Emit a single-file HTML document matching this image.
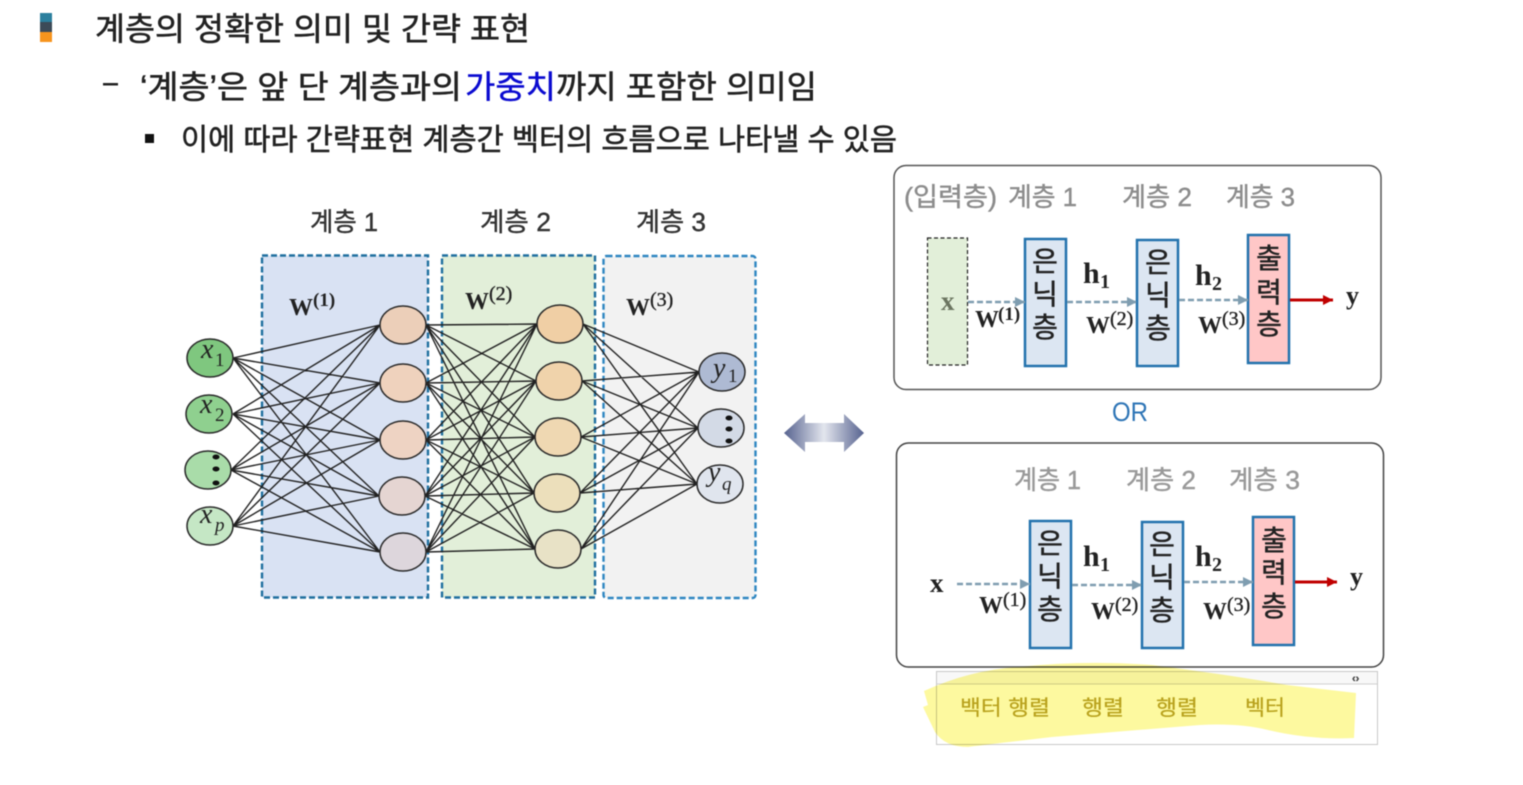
<!DOCTYPE html>
<html><head><meta charset="utf-8"><style>
html,body{margin:0;padding:0;background:#fff;width:1523px;height:785px;overflow:hidden}
svg{display:block;filter:blur(0.5px)}
.k{font-family:"Liberation Sans","Noto Sans CJK KR",sans-serif}
.t{stroke:#222;stroke-width:.55;fill:#222}
.s{font-family:"Liberation Serif","DejaVu Serif",serif;font-weight:bold;fill:#222}
.n{font-weight:normal;stroke:#222;stroke-width:.35}
.i{font-family:"Liberation Serif","DejaVu Serif",serif;font-style:italic;fill:#222}
.r{font-style:normal}
.m{font-size:28px;text-anchor:middle;fill:#222;stroke:#222;stroke-width:.5}
.h{font-size:26px;fill:#333;stroke:#333;stroke-width:.4}
.g{font-size:26px;fill:#8c8c8c;stroke:#8c8c8c;stroke-width:.4}
.y{font-size:21px;fill:#b8a11c;stroke:#b8a11c;stroke-width:.2}
</style></head><body>
<svg width="1523" height="785" viewBox="0 0 1523 785" xmlns="http://www.w3.org/2000/svg">
<defs>
<linearGradient id="ag" x1="0" x2="1" y1="0" y2="0"><stop offset="0" stop-color="#56628f"/><stop offset=".5" stop-color="#e3e6ee"/><stop offset="1" stop-color="#56628f"/></linearGradient>
<marker id="ga" markerUnits="userSpaceOnUse" markerWidth="11" markerHeight="11" refX="10" refY="5" orient="auto"><path d="M0 0L10 5L0 10Z" fill="#7f9db0"/></marker>
<marker id="ra" markerUnits="userSpaceOnUse" markerWidth="11" markerHeight="11" refX="10" refY="5" orient="auto"><path d="M0 0L10 5L0 10Z" fill="#c00000"/></marker>
</defs>

<!-- header -->
<rect x="40" y="13" width="12" height="10" fill="#2b7f9e"/>
<rect x="40" y="22" width="12" height="10" fill="#3c4a58"/>
<rect x="40" y="32" width="12" height="10" fill="#f7941d"/>
<text class="k t" x="95" y="40" font-size="32" textLength="435" lengthAdjust="spacingAndGlyphs">계층의 정확한 의미 및 간략 표현</text>
<rect x="103" y="83" width="15" height="2.500" fill="#222"/>
<text class="k t" x="140" y="98" font-size="32" textLength="322" lengthAdjust="spacingAndGlyphs">‘계층’은 앞 단 계층과의</text>
<text class="k" x="465" y="98" font-size="32" fill="#0a0ad0" stroke="#0a0ad0" stroke-width=".4" textLength="91" lengthAdjust="spacingAndGlyphs">가중치</text>
<text class="k t" x="556" y="98" font-size="32" textLength="261" lengthAdjust="spacingAndGlyphs">까지 포함한 의미임</text>
<rect x="145" y="134" width="9" height="9" fill="#111"/>
<text class="k t" x="181" y="150" font-size="30" textLength="716" lengthAdjust="spacingAndGlyphs">이에 따라 간략표현 계층간 벡터의 흐름으로 나타낼 수 있음</text>

<!-- left network -->
<text class="k h" x="310" y="231" textLength="68" lengthAdjust="spacingAndGlyphs">계층 1</text>
<text class="k h" x="480" y="231" textLength="71" lengthAdjust="spacingAndGlyphs">계층 2</text>
<text class="k h" x="636" y="231" textLength="70" lengthAdjust="spacingAndGlyphs">계층 3</text>
<rect x="262" y="255.500" width="166" height="342" fill="#d9e2f3" stroke="#1f6f9f" stroke-width="2.400" stroke-dasharray="6 3"/>
<rect x="442" y="255.500" width="153" height="342" fill="#e2efd9" stroke="#1f6f9f" stroke-width="2.400" stroke-dasharray="6 3"/>
<rect x="603.500" y="256" width="152" height="342" rx="3" fill="#f2f2f2" stroke="#2e86c1" stroke-width="2.400" stroke-dasharray="6 3"/>

<path fill="none" stroke="#222" stroke-width="1.400" d="
M233 358L380 325M233 358L380 383M233 358L380 440M233 358L379 496M233 358L380 552
M233 414L380 325M233 414L380 383M233 414L380 440M233 414L379 496M233 414L380 552
M231 470L380 325M231 470L380 383M231 470L380 440M231 470L379 496M231 470L380 552
M233 526L380 325M233 526L380 383M233 526L380 440M233 526L379 496M233 526L380 552
M426 325L537 324M426 325L536 381M426 325L535 437M426 325L534 493M426 325L535 549
M426 383L537 324M426 383L536 381M426 383L535 437M426 383L534 493M426 383L535 549
M426 440L537 324M426 440L536 381M426 440L535 437M426 440L534 493M426 440L535 549
M425 496L537 324M425 496L536 381M425 496L535 437M425 496L534 493M425 496L535 549
M426 552L537 324M426 552L536 381M426 552L535 437M426 552L534 493M426 552L535 549
M583 324L699 372M583 324L698 428M583 324L697 484
M582 381L699 372M582 381L698 428M582 381L697 484
M581 437L699 372M581 437L698 428M581 437L697 484
M580 493L699 372M580 493L698 428M580 493L697 484
M581 549L699 372M581 549L698 428M581 549L697 484"/>

<g stroke="#2a2a2a" stroke-width="1.500">
<ellipse cx="210" cy="358" rx="23" ry="19" fill="#7fc77f"/>
<ellipse cx="209" cy="414" rx="23" ry="19" fill="#8fd08f"/>
<ellipse cx="208" cy="470" rx="23" ry="19" fill="#a9dca9"/>
<ellipse cx="210" cy="526" rx="23" ry="19" fill="#c5e7c5"/>
<ellipse cx="403" cy="325" rx="23" ry="19" fill="#eccfb9"/>
<ellipse cx="403" cy="383" rx="23" ry="19" fill="#efd2bd"/>
<ellipse cx="403" cy="440" rx="23" ry="19" fill="#eed3c3"/>
<ellipse cx="402" cy="496" rx="23" ry="19" fill="#e5d5d2"/>
<ellipse cx="403" cy="552" rx="23" ry="19" fill="#ddd6dc"/>
<ellipse cx="560" cy="324" rx="23" ry="19" fill="#f0cfa5"/>
<ellipse cx="559" cy="381" rx="23" ry="19" fill="#f0d3ab"/>
<ellipse cx="558" cy="437" rx="23" ry="19" fill="#efd8b2"/>
<ellipse cx="557" cy="493" rx="23" ry="19" fill="#ecdfbb"/>
<ellipse cx="558" cy="549" rx="23" ry="19" fill="#e8e2c6"/>
<ellipse cx="722" cy="372" rx="23" ry="19" fill="#aebad3"/>
<ellipse cx="721" cy="428" rx="23" ry="19" fill="#d3dae6"/>
<ellipse cx="720" cy="484" rx="23" ry="19" fill="#e0e5ee"/>
</g>
<g fill="#111">
<ellipse cx="216" cy="457" rx="3.500" ry="2.500"/><ellipse cx="216" cy="469" rx="3.500" ry="2.500"/><ellipse cx="216" cy="483" rx="3.500" ry="2.500"/>
<ellipse cx="729" cy="418" rx="3.500" ry="2.500"/><ellipse cx="729" cy="429" rx="3.500" ry="2.500"/><ellipse cx="729" cy="441" rx="3.500" ry="2.500"/>
</g>
<text class="i" x="201" y="358" font-size="28">x</text><text class="i r" x="215" y="366" font-size="19">1</text>
<text class="i" x="200" y="413" font-size="28">x</text><text class="i r" x="215" y="421" font-size="19">2</text>
<text class="i" x="200" y="523" font-size="28">x</text><text class="i" x="215" y="531" font-size="19">p</text>
<text class="i" x="713" y="377" font-size="28">y</text><text class="i r" x="728" y="382" font-size="19">1</text>
<text class="i" x="708" y="481" font-size="28">y</text><text class="i" x="722" y="490" font-size="19">q</text>

<text class="s" x="289" y="315" font-size="24">W</text><text class="s" x="313" y="306" font-size="19">(1)</text>
<text class="s" x="465" y="309" font-size="24">W</text><text class="s n" x="489" y="300" font-size="20">(2)</text>
<text class="s" x="626" y="315" font-size="24">W</text><text class="s n" x="650" y="306" font-size="20">(3)</text>

<!-- double arrow -->
<path d="M784 433L805 414V423H844V414L864 433L844 452V442H805V452Z" fill="url(#ag)"/>

<!-- box 1 -->
<rect x="894" y="165.500" width="487" height="224" rx="12" fill="#fff" stroke="#555" stroke-width="1.500"/>
<text class="k g" x="904" y="206" textLength="93" lengthAdjust="spacingAndGlyphs">(입력층)</text>
<text class="k g" x="1008" y="206" textLength="69" lengthAdjust="spacingAndGlyphs">계층 1</text>
<text class="k g" x="1122" y="206" textLength="70" lengthAdjust="spacingAndGlyphs">계층 2</text>
<text class="k g" x="1226" y="206" textLength="69" lengthAdjust="spacingAndGlyphs">계층 3</text>
<rect x="927.500" y="238" width="40" height="127" fill="#e2efd9" stroke="#222" stroke-width="1.200" stroke-dasharray="4 2.500"/>
<g stroke="#2272ad" stroke-width="2.500">
<rect x="1025" y="239" width="41" height="127" fill="#dce6f2"/>
<rect x="1137" y="240" width="41" height="126" fill="#dce6f2"/>
<rect x="1248" y="235" width="41" height="128" fill="#ffc7c7"/>
<rect x="1030" y="521" width="41" height="127" fill="#dce6f2"/>
<rect x="1142" y="522" width="41" height="126" fill="#dce6f2"/>
<rect x="1253" y="517" width="41" height="128" fill="#ffc7c7"/>
</g>
<text class="k m" x="1045" y="271">은</text><text class="k m" x="1045" y="304">닉</text><text class="k m" x="1045" y="337">층</text>
<text class="k m" x="1158" y="272">은</text><text class="k m" x="1158" y="305">닉</text><text class="k m" x="1158" y="338">층</text>
<text class="k m" x="1269" y="268">출</text><text class="k m" x="1269" y="302">력</text><text class="k m" x="1269" y="334">층</text>
<text class="k m" x="1050" y="553">은</text><text class="k m" x="1050" y="586">닉</text><text class="k m" x="1050" y="619">층</text>
<text class="k m" x="1162" y="554">은</text><text class="k m" x="1162" y="587">닉</text><text class="k m" x="1162" y="620">층</text>
<text class="k m" x="1274" y="550">출</text><text class="k m" x="1274" y="582">력</text><text class="k m" x="1274" y="616">층</text>
<g fill="none" stroke="#7f9db0" stroke-width="2.600" stroke-dasharray="6 3">
<path d="M968 302H1025" marker-end="url(#ga)"/>
<path d="M1067 302H1137" marker-end="url(#ga)"/>
<path d="M1179 300H1248" marker-end="url(#ga)"/>
</g>
<path d="M1290 300H1333" stroke="#c00000" stroke-width="3" fill="none" marker-end="url(#ra)"/>
<text class="s" x="941" y="310" font-size="27" style="fill:#6b7560">x</text>
<text class="s" x="1083" y="283" font-size="30">h</text><text class="s" x="1100" y="288" font-size="20">1</text>
<text class="s" x="1195" y="285" font-size="30">h</text><text class="s" x="1212" y="290" font-size="20">2</text>
<text class="s" x="975" y="327" font-size="24">W</text><text class="s" x="998" y="320" font-size="19">(1)</text>
<text class="s" x="1086" y="333" font-size="24">W</text><text class="s n" x="1110" y="325" font-size="20">(2)</text>
<text class="s" x="1198" y="333" font-size="24">W</text><text class="s n" x="1222" y="325" font-size="20">(3)</text>
<text class="s" x="1346" y="304" font-size="26">y</text>
<text class="k" x="1112" y="421" font-size="27" fill="#2e75b6" textLength="36" lengthAdjust="spacingAndGlyphs">OR</text>

<!-- box 2 -->
<rect x="896.500" y="443" width="487" height="224" rx="12" fill="none" stroke="#444" stroke-width="1.500"/>
<text class="k g" x="1014" y="489" style="fill:#999;stroke:#999" textLength="67" lengthAdjust="spacingAndGlyphs">계층 1</text>
<text class="k g" x="1126" y="489" style="fill:#999;stroke:#999" textLength="70" lengthAdjust="spacingAndGlyphs">계층 2</text>
<text class="k g" x="1229" y="489" style="fill:#999;stroke:#999" textLength="71" lengthAdjust="spacingAndGlyphs">계층 3</text>
<g fill="none" stroke="#7f9db0" stroke-width="2.600" stroke-dasharray="6 3">
<path d="M957 584H1030" marker-end="url(#ga)"/>
<path d="M1072 585H1142" marker-end="url(#ga)"/>
<path d="M1184 582H1253" marker-end="url(#ga)"/>
</g>
<path d="M1295 582H1337" stroke="#c00000" stroke-width="3" fill="none" marker-end="url(#ra)"/>
<text class="s" x="930" y="592" font-size="27">x</text>
<text class="s" x="1083" y="566" font-size="30">h</text><text class="s" x="1100" y="571" font-size="20">1</text>
<text class="s" x="1195" y="566" font-size="30">h</text><text class="s" x="1212" y="571" font-size="20">2</text>
<text class="s" x="979" y="613" font-size="24">W</text><text class="s n" x="1003" y="606" font-size="20">(1)</text>
<text class="s" x="1091" y="619" font-size="24">W</text><text class="s n" x="1115" y="611" font-size="20">(2)</text>
<text class="s" x="1203" y="619" font-size="24">W</text><text class="s n" x="1227" y="611" font-size="20">(3)</text>
<text class="s" x="1350" y="585" font-size="26">y</text>

<!-- table + highlight -->
<rect x="936.500" y="671.500" width="441" height="73" fill="#fff" stroke="#c8c8c8" stroke-width="1"/>
<rect x="937" y="672" width="440" height="12" fill="#f8f8f8"/>
<path d="M937 684H1377" stroke="#d0d0d0" stroke-width="1"/>
<path d="M924 691Q970 670 1018 667Q1085 660 1152 665Q1230 675 1287 685L1356 693L1354 738Q1310 740 1268 730Q1240 723 1200 725L1052 737Q1000 743 968 747Q945 747 935 732L923 707L928 705Z" fill="#fdf99f" style="mix-blend-mode:multiply"/>
<text class="k" x="1352" y="682" font-size="11" font-weight="bold" fill="#444" stroke="#444" stroke-width=".3">‹›</text>
<text class="k y" x="960" y="715" textLength="90" lengthAdjust="spacingAndGlyphs">백터 행렬</text>
<text class="k y" x="1082" y="715" textLength="42" lengthAdjust="spacingAndGlyphs">행렬</text>
<text class="k y" x="1156" y="715" textLength="42" lengthAdjust="spacingAndGlyphs">행렬</text>
<text class="k y" x="1245" y="715" textLength="40" lengthAdjust="spacingAndGlyphs">벡터</text>
</svg>
</body></html>
